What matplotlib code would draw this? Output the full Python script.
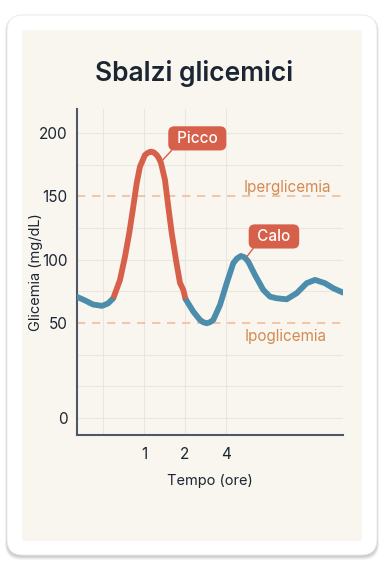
import numpy as np
import matplotlib.pyplot as plt
from matplotlib.patches import FancyBboxPatch

plt.rcParams['font.family'] = ['Inter', 'DejaVu Sans']

# curve (x = grid position, y = mg/dL)
tempo = [-0.634, -0.439, -0.244, -0.024, 0.122, 0.251, 0.415, 0.537, 0.641,
         0.739, 0.822, 0.902, 0.963, 1.024, 1.098, 1.163, 1.232, 1.310, 1.366,
         1.415, 1.512, 1.593, 1.676, 1.780, 1.878, 1.959, 2.012, 2.202, 2.366,
         2.446, 2.529, 2.610, 2.690, 2.854, 3.017, 3.178, 3.268, 3.366, 3.458,
         3.544, 3.707, 3.910, 4.073, 4.237, 4.480, 4.724, 4.968, 5.171, 5.415,
         5.617, 5.854]
glicemia = [70.6, 67.8, 64.6, 63.5, 65.4, 69.5, 84.0, 102.4, 121.1, 141.8,
            160.3, 173.4, 177.9, 182.6, 184.4, 185.2, 184.8, 182.6, 179.9, 176.3,
            162.9, 141.8, 121.1, 99.8, 81.6, 76.1, 69.0, 59.0, 52.4, 50.6, 49.8,
            50.6, 52.4, 64.2, 81.4, 97.2, 100.9, 102.9, 101.7, 98.4, 87.9, 76.1,
            70.8, 69.5, 68.7, 73.5, 81.4, 84.0, 81.4, 77.4, 74.0]
red_start, red_end = 5, 26   # indices of the "spike" part

soglia_iper = 150
soglia_ipo = 50
ytick_pos = [-25, 50, 100, 150, 200]
ytick_labels = ['0', '50', '100', '150', '200']
xtick_pos = [1, 2, 3]
xtick_labels = ['1', '2', '4']

RED = '#d6604a'
BLUE = '#4b8dab'
ORANGE = '#d48a52'
DASH = '#f1bd98'
CREAM = '#f9f6f0'
DARK = '#1c2633'

fig = plt.figure(figsize=(3.84, 5.76), dpi=100)
fig.patch.set_facecolor('white')

# background card in pixel coords
bg = fig.add_axes([0, 0, 1, 1], zorder=-5)
bg.set_xlim(0, 384)
bg.set_ylim(576, 0)
bg.axis('off')
for i, a in enumerate([0.04, 0.05, 0.06, 0.07]):
    g = 4 - i
    bg.add_patch(FancyBboxPatch((7 - g * 0.5, 15 + 1), 370 + g, 540 + g,
                                boxstyle='round,pad=0,rounding_size=16',
                                fc='#000000', ec='none', alpha=a))
bg.add_patch(FancyBboxPatch((7, 15), 370, 540, boxstyle='round,pad=0,rounding_size=16',
                            fc='white', ec='#ececec', lw=0.8))
bg.add_patch(FancyBboxPatch((22, 30), 340, 511, boxstyle='round,pad=0,rounding_size=2',
                            fc=CREAM, ec='none'))

ax = fig.add_axes([0.2005, 0.2448, 0.6927, 0.566])
ax.set_facecolor(CREAM)
ax.set_xlim(-0.634, 5.854)
ax.set_ylim(-38.4, 218.9)

for v in np.arange(-25, 201, 25):
    if v in (soglia_iper, soglia_ipo):
        continue
    ax.axhline(v, color='#e9e6df', lw=0.8, zorder=0)
for v in range(0, 4):
    ax.axvline(v, color='#e9e6df', lw=0.8, zorder=0)

ax.axhline(soglia_iper, color=DASH, lw=1.2, ls=(0, (5, 4)), zorder=1)
ax.axhline(soglia_ipo, color=DASH, lw=1.2, ls=(0, (5, 4)), zorder=1)

ax.plot(tempo[:red_start + 1], glicemia[:red_start + 1], color=BLUE, lw=4.2,
        solid_capstyle='round', solid_joinstyle='round', zorder=3)
ax.plot(tempo[red_end:], glicemia[red_end:], color=BLUE, lw=4.2,
        solid_capstyle='round', solid_joinstyle='round', zorder=3)
ax.plot(tempo[red_start:red_end + 1], glicemia[red_start:red_end + 1], color=RED,
        lw=4.2, solid_capstyle='butt', solid_joinstyle='round', zorder=4)

ax.text(4.49, 156.6, 'Iperglicemia', color=ORANGE, fontsize=11, ha='center', va='center')
ax.text(4.46, 39, 'Ipoglicemia', color=ORANGE, fontsize=11, ha='center', va='center')

box = dict(boxstyle='round,pad=0.3,rounding_size=0.4', fc=RED, ec='none')
ax.annotate(' Picco ', xy=(1.44, 178), xytext=(2.30, 195.7), color='white', fontsize=11,
            fontweight='medium', ha='center', va='center', bbox=box,
            arrowprops=dict(arrowstyle='-', color=RED, lw=1, shrinkA=0, shrinkB=0,
                            relpos=(0.06, 0.0)), zorder=6)
ax.annotate(' Calo ', xy=(3.5, 102), xytext=(4.17, 118.3), color='white', fontsize=11,
            fontweight='medium', ha='center', va='center', bbox=box,
            arrowprops=dict(arrowstyle='-', color=RED, lw=1, shrinkA=0, shrinkB=0,
                            relpos=(0.08, 0.0)), zorder=6)

for s in ['top', 'right']:
    ax.spines[s].set_visible(False)
for s in ['left', 'bottom']:
    ax.spines[s].set_color('#4d5864')
    ax.spines[s].set_linewidth(1.5)

ax.set_yticks(ytick_pos, ytick_labels)
ax.set_xticks(xtick_pos, xtick_labels)
ax.tick_params(length=0, labelsize=11, colors=DARK, pad=7)
ax.tick_params(axis='x', pad=9)
ax.set_ylabel('Glicemia (mg/dL)', fontsize=10.5, color=DARK)
ax.yaxis.set_label_coords(-0.128, 0.5)
ax.set_xlabel('Tempo (ore)', fontsize=10.5, color=DARK, labelpad=8)

fig.text(0.505, 0.873, 'Sbalzi glicemici', fontsize=19, fontweight='semibold',
         color=DARK, ha='center', va='center')

fig.savefig('out.png', dpi=100)
